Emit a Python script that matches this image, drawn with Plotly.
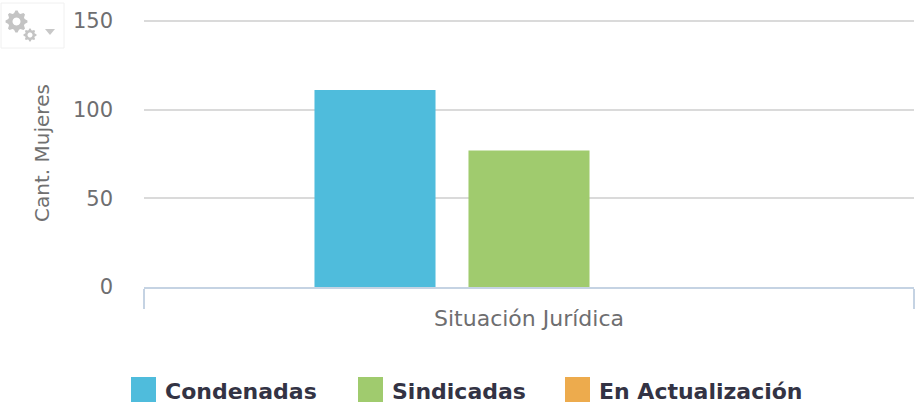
import math
import plotly.graph_objects as go

categories = ["Situación Jurídica"]
series_names = ["Condenadas", "Sindicadas", "En Actualización"]
condenadas = [111]
sindicadas = [77]
en_actualizacion = [0]
colors = ["#4FBCDC", "#A0CB6E", "#EDAB4D"]
y_ticks = [0, 50, 100, 150]

FONT = "DejaVu Sans"
L, R, T, B = 144, 914, 19, 287
px = lambda x: (x - L) / (R - L)
py = lambda y: (B - y) / (B - T)

fig = go.Figure()
for name, vals, c in zip(series_names, [condenadas, sindicadas, en_actualizacion], colors):
    fig.add_bar(x=categories, y=vals, name=name, marker=dict(color=c, line_width=0))

fig.update_layout(
    width=915, height=407, autosize=False,
    margin=dict(l=L, r=915 - R, t=T, b=407 - B, autoexpand=False),
    paper_bgcolor="white", plot_bgcolor="white",
    barmode="group", bargap=0.4, bargroupgap=0.214,
    showlegend=False,
    font=dict(family=FONT, color="#707070"),
    xaxis=dict(type="category", showline=True, linecolor="#C5D3E3", linewidth=2,
               ticks="outside", tickson="boundaries", ticklen=20, tickwidth=2, tickcolor="#C5D3E3",
               tickfont=dict(size=22, color="#6E6E70", family=FONT), showgrid=False,
               ticklabelstandoff=11),
    yaxis=dict(range=[0, 151.1], tickvals=y_ticks, gridcolor="#DADADA", gridwidth=2,
               zeroline=False, showline=False, ticks="", ticklabelstandoff=30,
               tickfont=dict(size=21, color="#6E6E70", family=FONT),
               title=dict(text="Cant. Mujeres", font=dict(size=20, color="#707070", family=FONT), standoff=17)),
)

legend_x = [131, 358, 565]
for name, c, lx in zip(series_names, colors, legend_x):
    fig.add_shape(type="rect", xref="paper", yref="paper",
                  x0=px(lx), x1=px(lx + 25), y0=py(402), y1=py(377),
                  fillcolor=c, line_width=0)
    fig.add_annotation(xref="paper", yref="paper", x=px(lx + 32), y=py(391),
                       text=f"<b>{name}</b>", showarrow=False, xanchor="left", yanchor="middle",
                       font=dict(size=22, color="#333344", family=FONT))


def gear(cx, cy, r_out, r_in, r_hole, teeth=8):
    pts = []
    n = teeth * 4
    for i in range(n):
        a = 2 * math.pi * (i - 0.5) / n
        r = r_out if i % 4 in (0, 1) else r_in
        pts.append((px(cx + r * math.cos(a)), py(cy + r * math.sin(a))))
    d = "M" + "L".join(f"{x:.5f},{y:.5f}" for x, y in pts) + "Z"
    hole = []
    for i in range(24):
        a = 2 * math.pi * i / 24
        hole.append((px(cx + r_hole * math.cos(a)), py(cy + r_hole * math.sin(a))))
    d += "M" + "L".join(f"{x:.5f},{y:.5f}" for x, y in hole) + "Z"
    return d


fig.add_shape(type="rect", xref="paper", yref="paper", x0=px(1), x1=px(64), y0=py(48), y1=py(3),
              fillcolor="white", line=dict(color="#F0F0F0", width=1))
for d in [gear(16.5, 21.5, 11, 8.5, 4), gear(30, 35, 6.5, 5, 2.5)]:
    fig.add_shape(type="path", xref="paper", yref="paper", path=d,
                  fillcolor="#C4C4C4", line_width=0)
fig.add_shape(type="path", xref="paper", yref="paper",
              path=f"M{px(45)},{py(29)}L{px(55)},{py(29)}L{px(50)},{py(35)}Z",
              fillcolor="#C8C8C8", line_width=0)

fig.write_html("out.html", config={"displayModeBar": False},
               post_script="document.body.style.margin='0';document.body.style.overflow='hidden';")
